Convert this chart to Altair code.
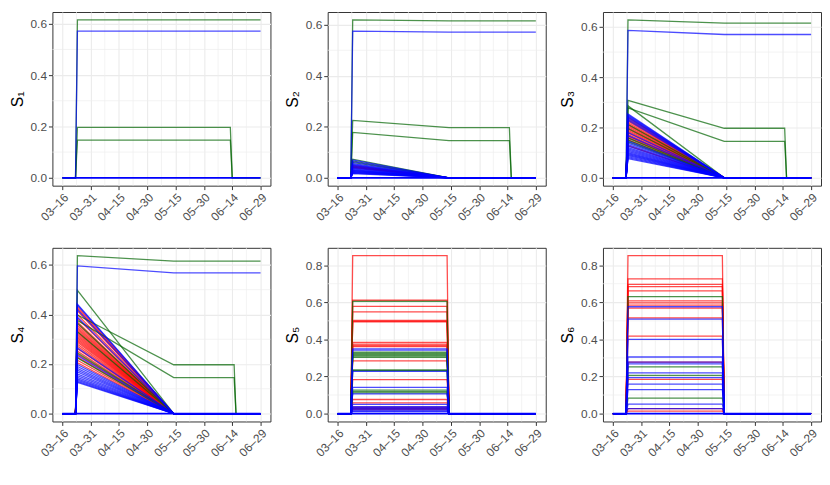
import altair as alt
import pandas as pd

# ---------------- data ----------------
PANEL_TITLES = ["S₁", "S₂", "S₃", "S₄", "S₅", "S₆"]
TICK_DATES = ["2020-03-16", "2020-03-31", "2020-04-15", "2020-04-30",
              "2020-05-15", "2020-05-30", "2020-06-14", "2020-06-29"]
MINOR_X = ["2020-03-23T12:00:00Z", "2020-04-07T12:00:00Z", "2020-04-22T12:00:00Z",
           "2020-05-07T12:00:00Z", "2020-05-22T12:00:00Z", "2020-06-06T12:00:00Z",
           "2020-06-21T12:00:00Z"]
Y_MAJOR = [0.0, 0.2, 0.4, 0.6, 0.8]
Y_MINOR = [0.1, 0.3, 0.5, 0.7]

START, RISE0, RISE1, END = "2020-03-16", "2020-03-23", "2020-03-24", "2020-06-29"
FADE_END = "2020-05-14"
S1_DROP_DATES = ("2020-06-13", "2020-06-14")
S234_DROP_DATES = ("2020-06-15", "2020-06-16")
RECT_END = ("2020-05-13", "2020-05-14")

# (colour, value at 03-24, value at 05-14)
S1_KEEP = [("green", 0.615, 0.615), ("blue", 0.571, 0.571)]
S1_DROP = [("green", 0.196, 0.196), ("green", 0.147, 0.147)]

S2_KEEP = [("green", 0.619, 0.615), ("blue", 0.575, 0.571)]
S2_DROP = [("green", 0.225, 0.197), ("green", 0.178, 0.146)]
S2_FADE_RED = [0.047, 0.043, 0.040]
S2_FADE_GREEN = [0.073, 0.066, 0.060]
S2_FADE_BLUE = [0.070, 0.063, 0.056, 0.052, 0.049, 0.045, 0.041, 0.038, 0.035,
                0.032, 0.030, 0.028, 0.026, 0.024, 0.022, 0.020, 0.018, 0.016]

S3_KEEP = [("green", 0.628, 0.615), ("blue", 0.586, 0.570)]
S3_DROP = [("green", 0.308, 0.197), ("green", 0.278, 0.145)]
S3_FADE_RED = [0.240, 0.232, 0.225, 0.219, 0.214, 0.209, 0.204, 0.199, 0.194,
               0.189, 0.184, 0.178, 0.172, 0.166, 0.160, 0.152, 0.128]
S3_FADE_GREEN = [0.286, 0.212, 0.196, 0.158, 0.150, 0.143]
S3_FADE_BLUE = [0.254, 0.250, 0.246, 0.242, 0.236, 0.229, 0.180, 0.168,
                0.146, 0.138, 0.132, 0.126, 0.120, 0.115, 0.110, 0.105, 0.100,
                0.096, 0.092, 0.088, 0.084, 0.080, 0.076]

S4_KEEP = [("green", 0.637, 0.615), ("blue", 0.596, 0.568)]
S4_DROP = [("green", 0.398, 0.197), ("green", 0.376, 0.145)]
S4_FADE_RED = [0.432, 0.425, 0.415, 0.400, 0.385, 0.370, 0.362, 0.355, 0.348,
               0.342, 0.336, 0.330, 0.324, 0.318, 0.312, 0.306, 0.300, 0.294,
               0.288, 0.280, 0.272, 0.262, 0.252, 0.240, 0.228, 0.215, 0.205]
S4_FADE_GREEN = [0.497, 0.365, 0.330, 0.245, 0.225]
S4_FADE_BLUE = [0.442, 0.438, 0.420, 0.390, 0.265, 0.235, 0.198, 0.190, 0.182,
                0.175, 0.168, 0.160, 0.153, 0.146, 0.140, 0.135, 0.130, 0.126]

S5_RED = [0.851, 0.611, 0.578, 0.548, 0.502, 0.497, 0.494, 0.384, 0.374, 0.367,
          0.361, 0.284, 0.183, 0.076, 0.058, 0.035, 0.028, 0.022]
S5_GREEN = [0.605, 0.331, 0.326, 0.321, 0.315, 0.310, 0.303, 0.235, 0.232,
            0.127, 0.118, 0.112]
S5_BLUE = [0.349, 0.342, 0.227, 0.141, 0.106, 0.050, 0.038, 0.032, 0.026,
           0.020, 0.015, 0.010]

S6_RED = [0.851, 0.726, 0.696, 0.684, 0.661, 0.608, 0.597, 0.585, 0.568, 0.516,
          0.418, 0.277, 0.185, 0.027, 0.013]
S6_GREEN = [0.631, 0.252, 0.206, 0.083]
S6_BLUE = [0.576, 0.509, 0.400, 0.305, 0.277, 0.268, 0.220, 0.194, 0.159,
           0.129, 0.051, 0.027]

COLORS = {"red": "#FF0000", "green": "#006400", "blue": "#0000FF", "zero": "#0000FF"}
ORDER = ["red", "green", "blue", "zero"]


# ---------------- build tables ----------------
def step_panel(keep, drop, fades, drop_dates):
    dates = [START, RISE0, RISE1, FADE_END, drop_dates[0], drop_dates[1], END]
    series = []
    for c, a, b in keep:
        series.append((c, [0, 0, a, b, b, b, b]))
    for c, a, b in drop:
        series.append((c, [0, 0, a, b, b, 0, 0]))
    for c, vals in fades:
        for a in vals:
            series.append((c, [0, 0, a, 0, 0, 0, 0]))
    series.append(("zero", [0] * 7))
    return dates, series


def rect_panel(groups):
    dates = [START, RISE0, RISE1, RECT_END[0], RECT_END[1], END]
    series = []
    for c, vals in groups:
        for h in vals:
            series.append((c, [0, 0, h, h, 0, 0]))
    series.append(("zero", [0] * 6))
    return dates, series


panels = [
    step_panel(S1_KEEP, S1_DROP, [], S1_DROP_DATES),
    step_panel(S2_KEEP, S2_DROP, [("red", S2_FADE_RED), ("green", S2_FADE_GREEN),
                                  ("blue", S2_FADE_BLUE)], S234_DROP_DATES),
    step_panel(S3_KEEP, S3_DROP, [("red", S3_FADE_RED), ("green", S3_FADE_GREEN),
                                  ("blue", S3_FADE_BLUE)], S234_DROP_DATES),
    step_panel(S4_KEEP, S4_DROP, [("red", S4_FADE_RED), ("green", S4_FADE_GREEN),
                                  ("blue", S4_FADE_BLUE)], S234_DROP_DATES),
    rect_panel([("red", S5_RED), ("green", S5_GREEN), ("blue", S5_BLUE)]),
    rect_panel([("red", S6_RED), ("green", S6_GREEN), ("blue", S6_BLUE)]),
]


def to_dt(ts):
    ts = pd.Timestamp(ts)
    return alt.DateTime(year=ts.year, month=ts.month, date=ts.day,
                        hours=ts.hour, minutes=ts.minute, utc=True)


x0, x1 = pd.Timestamp(TICK_DATES[0]), pd.Timestamp(TICK_DATES[-1])
xpad = (x1 - x0) * 0.05
X_DOMAIN = [to_dt(x0 - xpad), to_dt(x1 + xpad)]
X_VALUES = [to_dt(d) for d in TICK_DATES]

W, H = 221, 176
FONT = "Liberation Sans"


def make_panel(k):
    dates, series = panels[k]
    rows = []
    for i, (c, vals) in enumerate(series):
        for d, v in zip(dates, vals):
            rows.append({"sid": f"{c}{i:03d}", "color": c, "date": d, "value": v})
    df = pd.DataFrame(rows)
    ymax = df["value"].max()
    ypad = ymax * 0.05
    ydom = [-ypad, ymax + ypad]

    x_enc = alt.X("date:T", scale=alt.Scale(domain=X_DOMAIN, nice=False),
                  axis=alt.Axis(values=X_VALUES, title=None, labelOverlap=False,
                                labelExpr="utcFormat(datum.value, '%m–%d')",
                                labelAngle=-45, labelAlign="right",
                                labelBaseline="top"))
    y_enc = alt.Y("value:Q", scale=alt.Scale(domain=ydom, nice=False, zero=False),
                  axis=alt.Axis(values=[v for v in Y_MAJOR if v <= ydom[1]],
                                labelOverlap=False,
                                format=".1f", title=PANEL_TITLES[k]))

    minor_x = alt.Chart(pd.DataFrame({"date": MINOR_X})).mark_rule(
        color="#EEEEEE", strokeWidth=0.7).encode(x=x_enc)
    minor_y = alt.Chart(pd.DataFrame({"value": [v for v in Y_MINOR if v <= ydom[1]]})).mark_rule(
        color="#EEEEEE", strokeWidth=0.7).encode(y=y_enc)

    layers = [minor_x, minor_y]
    for c in ORDER:
        sub = df[df["color"] == c]
        if sub.empty:
            continue
        layers.append(
            alt.Chart(sub).mark_line(color=COLORS[c],
                                     strokeWidth=1.8 if c == "zero" else 1.3,
                                     opacity=1.0 if c == "zero" else 0.7)
            .encode(x=x_enc, y=y_enc, detail="sid:N")
        )
    return alt.layer(*layers).properties(width=W, height=H)


row1 = alt.hconcat(*[make_panel(k) for k in range(3)], spacing=12)
row2 = alt.hconcat(*[make_panel(k) for k in range(3, 6)], spacing=12)

chart = alt.vconcat(row1, row2, spacing=24).properties(
    padding={"left": 0, "top": 0, "right": 0, "bottom": 0}
).configure(
    font=FONT
).configure_view(
    stroke="#333333", strokeWidth=1
).configure_axis(
    domain=False,
    grid=True, gridColor="#EBEBEB", gridWidth=1.1,
    tickColor="#333333", tickSize=4, tickWidth=1,
    labelFont=FONT, labelFontSize=12, labelColor="#4D4D4D", labelPadding=2,
    titleFont=FONT, titleFontSize=16, titleFontWeight="normal", titleColor="#000000",
    titlePadding=5,
).configure_axisY(
    labelAngle=0
)

chart.save("out.html", embed_options={"renderer": "svg", "actions": False})
